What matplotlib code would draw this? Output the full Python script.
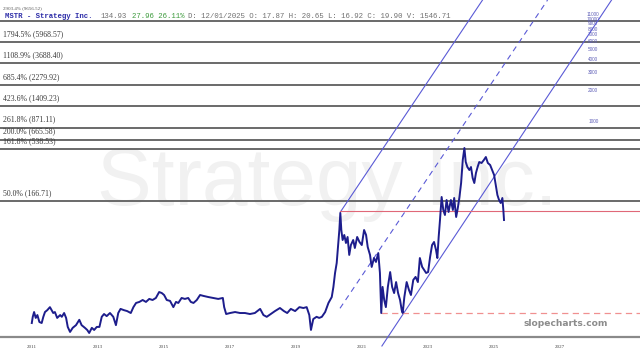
import matplotlib
matplotlib.use("Agg")
import matplotlib.pyplot as plt
import matplotlib.transforms as mtransforms

# ---------------- data ----------------
dates = [2011.76, 2011.79, 2011.83, 2011.88, 2011.93, 2011.99, 2012.06, 2012.11, 2012.16, 2012.23,
         2012.31, 2012.36, 2012.41, 2012.46, 2012.53, 2012.62, 2012.67, 2012.74, 2012.80, 2012.85,
         2012.92, 2013.00, 2013.10, 2013.20, 2013.27, 2013.37, 2013.44, 2013.50, 2013.58, 2013.65,
         2013.73, 2013.81, 2013.88, 2013.95, 2014.03, 2014.13, 2014.23, 2014.31, 2014.38, 2014.45,
         2014.55, 2014.65, 2014.76, 2014.84, 2014.92, 2015.02, 2015.12, 2015.22, 2015.32, 2015.42,
         2015.52, 2015.62, 2015.70, 2015.77, 2015.85, 2015.95, 2016.05, 2016.13, 2016.20, 2016.30,
         2016.40, 2016.50, 2016.58, 2016.66, 2016.76, 2016.86, 2016.96, 2017.11, 2017.26, 2017.41,
         2017.55, 2017.59, 2017.65, 2017.77, 2017.92, 2018.07, 2018.22, 2018.37, 2018.52, 2018.68,
         2018.78, 2018.88, 2019.00, 2019.13, 2019.28, 2019.40, 2019.50, 2019.61, 2019.74, 2019.87,
         2019.99, 2020.09, 2020.17, 2020.22, 2020.29, 2020.39, 2020.47,
         2020.55, 2020.65, 2020.75, 2020.85, 2020.90, 2020.95, 2021.00, 2021.04, 2021.08, 2021.11,
         2021.14, 2021.18, 2021.23, 2021.28, 2021.33, 2021.38, 2021.43, 2021.50, 2021.55, 2021.62,
         2021.69, 2021.76, 2021.83, 2021.89, 2021.94, 2022.01, 2022.06, 2022.13, 2022.19, 2022.26,
         2022.31, 2022.35, 2022.39, 2022.44, 2022.49, 2022.55, 2022.62, 2022.68, 2022.74, 2022.80,
         2022.86, 2022.92, 2022.97, 2023.00, 2023.05, 2023.12, 2023.19, 2023.25, 2023.32, 2023.39,
         2023.46, 2023.52, 2023.59, 2023.65, 2023.71, 2023.77, 2023.83, 2023.89, 2023.95, 2024.01,
         2024.05, 2024.09, 2024.13, 2024.18, 2024.23, 2024.28, 2024.33, 2024.39, 2024.46, 2024.52,
         2024.56, 2024.62, 2024.67, 2024.72, 2024.77, 2024.82, 2024.87, 2024.91, 2024.96, 2025.02,
         2025.07, 2025.12, 2025.17, 2025.22, 2025.27, 2025.32, 2025.39, 2025.46, 2025.52, 2025.58,
         2025.65, 2025.71, 2025.77, 2025.82, 2025.87, 2025.92, 2025.97, 2026.02, 2026.05, 2026.07]

prices = [10.7, 12.3, 13.7, 12.0, 12.8, 10.95, 10.7, 12.3, 13.7, 14.3,
          15.3, 14.3, 13.4, 13.7, 12.0, 12.8, 12.3, 13.4, 12.0, 9.8,
          8.75, 9.6, 10.2, 11.5, 10.2, 9.6, 9.15, 8.55, 9.6, 9.15,
          9.8, 9.8, 12.3, 13.1, 12.5, 13.4, 12.3, 10.2, 13.4, 14.7,
          14.3, 14.0, 13.4, 15.3, 16.8, 17.2, 17.96, 17.2, 18.4, 17.96,
          18.8, 21.5, 21.0, 20.1, 17.96, 17.6, 15.3, 17.2, 16.8, 18.8,
          18.4, 18.8, 17.2, 16.8, 17.96, 20.1, 19.7, 19.2, 18.8, 18.4,
          18.8, 15.3, 13.1, 13.4, 13.7, 13.4, 13.4, 13.1, 13.4, 14.7,
          12.8, 12.3, 13.1, 14.0, 15.0, 14.0, 13.4, 14.7, 14.0, 15.3,
          15.0, 15.3, 12.8, 9.15, 11.7, 12.3, 12.0,
          12.3, 13.7, 16.8, 19.2, 24.1, 33.0, 41.3, 59.2, 86.8, 127.3,
          86.8, 69.3, 77.6, 64.8, 74.2, 49.5, 61.9, 69.3, 57.9, 74.2,
          66.3, 61.9, 86.8, 77.6, 59.2, 49.5, 37.8, 46.2, 42.3, 51.7,
          33.0, 13.4, 24.1, 17.96, 15.3, 24.1, 33.7, 24.1, 21.0, 26.9,
          21.0, 17.96, 14.3, 13.4, 19.2, 26.9, 22.5, 20.1, 28.2, 30.2,
          26.9, 46.2, 37.8, 35.3, 33.0, 33.7, 47.3, 61.9, 66.3, 55.3,
          46.2, 74.2, 108.7, 182.5, 136.2, 121.7, 170.5, 130.2, 170.5, 136.2,
          178.4, 116.3, 142.4, 182.5, 250.0, 419.6, 549.7, 401.1, 358.4, 335.0,
          358.4, 279.9, 250.0, 313.1, 358.4, 401.1, 392.3, 419.6, 448.9, 392.3,
          374.9, 335.0, 299.4, 239.0, 190.9, 170.5, 159.4, 178.4, 136.2, 108.7]

fib_pcts = ["2903.4%", "1794.5%", "1108.9%", "685.4%", "423.6%", "261.8%", "200.0%", "161.8%", "50.0%"]
fib_values = [9656.52, 5968.57, 3688.40, 2279.92, 1409.23, 871.11, 665.58, 538.53, 166.71]

upper_dates = [2021.11, 2025.42]
upper_prices = [130.0, 15380.0]
mid_dates = [2021.10, 2027.39]
mid_prices = [14.9, 15380.0]
lower_dates = [2022.37, 2029.33]
lower_prices = [6.38, 15380.0]

peak_level = 133.2
peak_start = 2021.11
low_level = 13.4
low_start = 2022.35

year_labels = ["2011", "2013", "2015", "2017", "2019", "2021", "2023", "2025", "2027"]
year_values = [2011, 2013, 2015, 2017, 2019, 2021, 2023, 2025, 2027]
right_labels = [1000, 2000, 3000, 4000, 5000, 6000, 7000, 8000, 9000, 10000, 11000]

ticker = "MSTR - Strategy Inc."
last_val = "134.93"
change = "27.96 26.11%"
ohlc = "D: 12/01/2025 O: 17.87 H: 20.65 L: 16.92 C: 19.90 V: 1546.71"

# ---------------- figure ----------------
W, H = 640, 356
fig = plt.figure(figsize=(W / 100, H / 100), dpi=100)
fig.patch.set_facecolor("white")
ax = fig.add_axes([0, 19 / H, 1, 337 / H])
ax.set_facecolor("white")
ax.set_yscale("log")
XMIN, XMAX = 2010.797, 2010.797 + 640 / 33
ax.set_xlim(XMIN, XMAX)
ax.set_ylim(7.81, 15380)

for s in ["top", "left", "right"]:
    ax.spines[s].set_visible(False)
ax.spines["bottom"].set_color("#8a8a8a")
ax.spines["bottom"].set_linewidth(1.6)
ax.yaxis.set_visible(False)
ax.minorticks_off()

YEAR_OFFSET = 0.77
ax.set_xticks([y + YEAR_OFFSET for y in year_values])
ax.set_xticklabels(year_labels)
ax.tick_params(axis="x", length=0, pad=6, labelsize=3.6, labelcolor="#444444")
for lab in ax.get_xticklabels():
    lab.set_family("Liberation Serif")

# watermark
ax.text(0.511, 0.392, "Strategy Inc.", transform=ax.transAxes, ha="center", va="baseline",
        fontsize=59, color="#f1f1f1", family="Liberation Sans", zorder=0)

blend = mtransforms.blended_transform_factory(ax.transAxes, ax.transData)

# fib lines
for i, (p, v) in enumerate(zip(fib_pcts, fib_values)):
    ax.axhline(v, color="#5e5e5e", lw=1.3, zorder=2)
    top = (i == 0)
    ax.annotate(f"{p} ({v:.2f})", xy=(0.004, v), xycoords=blend,
                xytext=(0, 7.5 if top else 2.8),
                textcoords="offset points", va="bottom", ha="left",
                fontsize=3.6 if top else 5.6,
                color="#555555" if top else "#3a3a3a", family="Liberation Serif", zorder=3)

# right-side scale labels
for r in right_labels:
    ax.text(0.927, r, str(r), transform=blend, ha="center", va="center", fontsize=3.4,
            color="#6060b8", family="Liberation Sans", zorder=3)

# channel lines
chan_col = "#5a5ad6"
ax.plot(upper_dates, upper_prices, color=chan_col, lw=0.8, zorder=4)
ax.plot(mid_dates, mid_prices, color=chan_col, lw=0.8, ls=(0, (5, 4)), zorder=4)
ax.plot(lower_dates, lower_prices, color=chan_col, lw=0.8, zorder=4, clip_on=False)

# red horizontal levels
ax.plot([peak_start, XMAX], [peak_level, peak_level], color="#e06878", lw=0.8, zorder=4)
ax.plot([low_start, XMAX], [low_level, low_level], color="#f09090", lw=0.9, ls=(0, (5, 3.5)), zorder=4)

# price
ax.plot(dates, prices, color="#1d1d8c", lw=1.4, zorder=5, solid_joinstyle="round")

# header
hy = (337 - 16) / 337
hdr = dict(transform=ax.transAxes, fontsize=5.3, family="Liberation Mono", va="center",
           ha="left", zorder=6)
ax.text(5 / W, hy, ticker, color="#2d2da8", fontweight="bold", **hdr)
ax.text(100 / W, hy, last_val, color="#707070", **hdr)
ax.text(132 / W, hy, change, color="#3c9a3c", **hdr)
ax.text(188 / W, hy, ohlc, color="#707070", **hdr)

# brand
ax.text(566 / W, (337 - 323) / 337, "slopecharts.com", transform=ax.transAxes, ha="center",
        va="center", fontsize=6.6, fontweight="bold", color="#8c8c8c", family="DejaVu Sans", zorder=6)

fig.savefig("out.png", dpi=100, facecolor="white")
